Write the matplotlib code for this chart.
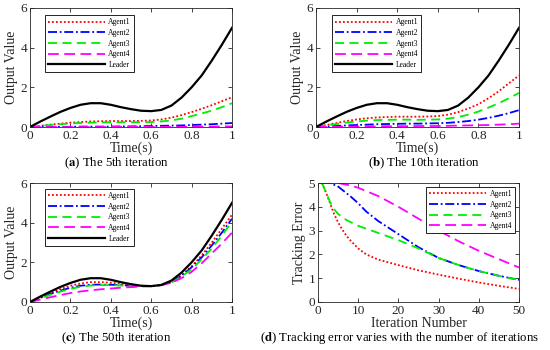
import matplotlib
matplotlib.use("Agg")
import matplotlib.pyplot as plt
import numpy as np

plt.rcParams['font.family'] = ['Liberation Serif', 'DejaVu Serif']
plt.rcParams['mathtext.fontset'] = 'stix'

# time grid (s) used for the output-value panels
t = [0, 0.05, 0.1, 0.15, 0.2, 0.25, 0.3, 0.35, 0.4, 0.45, 0.5,
     0.55, 0.6, 0.65, 0.7, 0.75, 0.8, 0.85, 0.9, 0.95, 1.0]

leader = [0, 0.27, 0.52, 0.76, 0.96, 1.12, 1.2, 1.2, 1.12, 1.0, 0.9,
          0.82, 0.8, 0.86, 1.08, 1.48, 2.0, 2.6, 3.35, 4.15, 5.0]

# (a) 5th iteration
a_agent1 = [0, 0.06, 0.12, 0.17, 0.22, 0.25, 0.28, 0.29, 0.3, 0.3, 0.3,
            0.31, 0.33, 0.38, 0.47, 0.6, 0.75, 0.92, 1.1, 1.3, 1.5]
a_agent2 = [0, 0.0, 0.01, 0.01, 0.01, 0.02, 0.02, 0.02, 0.02, 0.03, 0.03,
            0.04, 0.05, 0.06, 0.07, 0.08, 0.1, 0.12, 0.14, 0.17, 0.2]
a_agent3 = [0, 0.05, 0.1, 0.14, 0.18, 0.2, 0.22, 0.23, 0.24, 0.24, 0.24,
            0.24, 0.25, 0.28, 0.33, 0.42, 0.55, 0.68, 0.83, 1.0, 1.2]
a_agent4 = [0, 0, 0, 0, 0, 0, 0, 0, 0.01, 0.01, 0.01,
            0.01, 0.01, 0.01, 0.01, 0.01, 0.02, 0.02, 0.02, 0.03, 0.03]

# (b) 10th iteration
b_agent1 = [0, 0.1, 0.2, 0.3, 0.38, 0.44, 0.48, 0.5, 0.52, 0.52, 0.52,
            0.53, 0.55, 0.62, 0.75, 0.93, 1.15, 1.45, 1.8, 2.2, 2.6]
b_agent2 = [0, 0.02, 0.05, 0.08, 0.1, 0.12, 0.14, 0.15, 0.16, 0.17, 0.17,
            0.18, 0.19, 0.21, 0.25, 0.3, 0.37, 0.46, 0.57, 0.7, 0.85]
b_agent3 = [0, 0.08, 0.15, 0.22, 0.28, 0.32, 0.35, 0.36, 0.37, 0.37, 0.36,
            0.37, 0.38, 0.42, 0.5, 0.62, 0.78, 0.98, 1.2, 1.45, 1.72]
b_agent4 = [0, 0.01, 0.01, 0.02, 0.02, 0.03, 0.03, 0.04, 0.04, 0.04, 0.05,
            0.05, 0.05, 0.06, 0.07, 0.08, 0.09, 0.1, 0.12, 0.14, 0.17]

# (c) 50th iteration
c_agent1 = [0, 0.25, 0.45, 0.65, 0.82, 0.93, 1.0, 1.0, 0.97, 0.92, 0.86,
            0.82, 0.8, 0.85, 1.0, 1.35, 1.8, 2.35, 3.0, 3.7, 4.4]
c_agent2 = [0, 0.2, 0.4, 0.57, 0.72, 0.82, 0.87, 0.88, 0.87, 0.85, 0.82,
            0.8, 0.8, 0.86, 1.0, 1.32, 1.75, 2.25, 2.85, 3.5, 4.2]
c_agent3 = [0, 0.18, 0.36, 0.52, 0.66, 0.77, 0.83, 0.85, 0.85, 0.83, 0.81,
            0.8, 0.8, 0.85, 0.98, 1.28, 1.65, 2.15, 2.7, 3.35, 4.05]
c_agent4 = [0, 0.12, 0.24, 0.35, 0.45, 0.53, 0.59, 0.64, 0.68, 0.72, 0.75,
            0.78, 0.8, 0.85, 0.97, 1.2, 1.52, 1.95, 2.45, 2.95, 3.5]

# (d) tracking error vs iteration
it1 = [1, 2, 3, 4, 5, 6, 7, 8, 10, 12, 15, 20, 25, 30, 35, 40, 45, 50]
err1 = [5.0, 4.6, 4.15, 3.7, 3.35, 3.05, 2.8, 2.6, 2.25, 2.0, 1.78, 1.55,
        1.33, 1.15, 0.98, 0.82, 0.68, 0.55]
it2 = [1, 3, 5, 8, 10, 12, 15, 20, 25, 30, 35, 40, 45, 50]
err2 = [5.0, 5.0, 4.85, 4.45, 4.15, 3.8, 3.4, 2.85, 2.3, 1.85, 1.55, 1.3, 1.1, 0.93]
it3 = [1, 2, 3, 4, 5, 7, 10, 15, 20, 25, 30, 35, 40, 45, 50]
err3 = [5.0, 4.6, 4.2, 3.9, 3.7, 3.45, 3.2, 2.9, 2.6, 2.25, 1.85, 1.55, 1.3, 1.1, 0.92]
it4 = [1, 5, 8, 10, 15, 20, 25, 30, 35, 40, 45, 50]
err4 = [5.0, 5.0, 4.9, 4.8, 4.45, 4.0, 3.5, 3.0, 2.55, 2.15, 1.8, 1.45]

agent_styles = [
    dict(color='red', ls=(0, (1, 1.2)), lw=1.3, label='Agent1'),
    dict(color='blue', ls=(0, (5, 1.5, 1, 1.5)), lw=1.3, label='Agent2'),
    dict(color='#00ee00', ls=(0, (5, 3)), lw=1.3, label='Agent3'),
    dict(color='magenta', ls=(0, (6, 3)), lw=1.3, label='Agent4'),
]

fig = plt.figure(figsize=(5.5, 3.5), dpi=100)
W, H = 550, 350


def add_ax(l, t_, r, b):
    return fig.add_axes([l / W, 1 - b / H, (r - l) / W, (b - t_) / H])


def style_ax(ax):
    ax.tick_params(direction='in', top=True, right=True, labelsize=9.5,
                   length=3, width=0.6, colors='#262626', pad=2)
    for s in ax.spines.values():
        s.set_linewidth(0.6)
        s.set_color('#262626')


def output_panel(ax, agents, legend_xy):
    for y, st in zip(agents, agent_styles):
        ax.plot(t, y, **st)
    ax.plot(t, leader, color='black', lw=1.6, label='Leader')
    ax.set_xlim(0, 1)
    ax.set_ylim(0, 6)
    ax.set_xticks([0, 0.2, 0.4, 0.6, 0.8, 1])
    ax.set_xticklabels(['0', '0.2', '0.4', '0.6', '0.8', '1'])
    ax.set_yticks([0, 2, 4, 6])
    ax.set_xlabel('Time(s)', fontsize=10, labelpad=0, color='#262626')
    ax.set_ylabel('Output Value', fontsize=10, labelpad=2, color='#262626')
    style_ax(ax)
    leg = ax.legend(loc='upper left', bbox_to_anchor=legend_xy, borderaxespad=0,
                    fontsize=5.5, handlelength=7.5, handletextpad=0.4,
                    labelspacing=0.35, borderpad=0.4, fancybox=False,
                    edgecolor='black', framealpha=1)
    leg.get_frame().set_linewidth(0.6)


ax_a = add_ax(30, 8, 232, 127)
output_panel(ax_a, [a_agent1, a_agent2, a_agent3, a_agent4], (0.074, 0.94))
ax_b = add_ax(316, 8, 519, 127)
output_panel(ax_b, [b_agent1, b_agent2, b_agent3, b_agent4], (0.079, 0.94))
ax_c = add_ax(30, 183, 232, 302)
output_panel(ax_c, [c_agent1, c_agent2, c_agent3, c_agent4], (0.074, 0.95))

ax_d = add_ax(318, 183, 519, 302)
for x, y, st in zip([it1, it2, it3, it4], [err1, err2, err3, err4], agent_styles):
    ax_d.plot(x, y, **st)
ax_d.set_xlim(0, 50)
ax_d.set_ylim(0, 5)
ax_d.set_xticks([0, 10, 20, 30, 40, 50])
ax_d.set_yticks([0, 1, 2, 3, 4, 5])
ax_d.set_xlabel('Iteration Number', fontsize=10, labelpad=0, color='#262626')
ax_d.set_ylabel('Tracking Error', fontsize=10, labelpad=2, color='#262626')
style_ax(ax_d)
leg = ax_d.legend(loc='upper right', bbox_to_anchor=(0.98, 0.966), borderaxespad=0,
                  fontsize=5.5, handlelength=7.5, handletextpad=0.4,
                  labelspacing=0.35, borderpad=0.4, fancybox=False,
                  edgecolor='black', framealpha=1)
leg.get_frame().set_linewidth(0.6)

captions = [
    (116, 163, 'a', ' The 5th iteration'),
    (424, 163, 'b', ' The 10th iteration'),
    (116, 338, 'c', ' The 50th iteration'),
    (400, 338, 'd', ' Tracking error varies with the number of iterations'),
]
for cx, cy, letter, text in captions:
    fig.text(cx / W, 1 - cy / H,
             r'($\mathbf{' + letter + r'}$)' + text,
             ha='center', va='center', fontsize=9.2)

fig.savefig('out.png', dpi=100)
